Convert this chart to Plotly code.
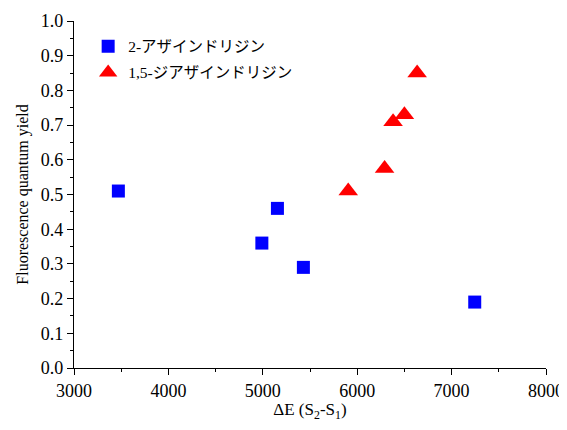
import plotly.graph_objects as go

# Data
aza_x = [3470, 4990, 5155, 5430, 7245]
aza_y = [0.51, 0.36, 0.46, 0.29, 0.19]
diaza_x = [5905, 6290, 6380, 6500, 6635]
diaza_y = [0.51, 0.575, 0.71, 0.73, 0.85]
aza_name = "2-アザインドリジン"
diaza_name = "1,5-ジアザインドリジン"
x_ticks = [3000, 4000, 5000, 6000, 7000, 8000]
y_ticks = [0.0, 0.1, 0.2, 0.3, 0.4, 0.5, 0.6, 0.7, 0.8, 0.9, 1.0]

serif = "Liberation Serif"
legend_fam = "Liberation Serif, Noto Sans CJK JP"

fig = go.Figure()
fig.add_trace(go.Scatter(
    x=aza_x, y=aza_y, mode="markers", name=aza_name, legendgroup="a",
    marker=dict(symbol="square", size=13, color="#0000ff", line=dict(width=0)),
))
fig.add_trace(go.Scatter(
    x=diaza_x, y=diaza_y, mode="markers", name=diaza_name, legendgroup="b",
    marker=dict(symbol="triangle-up", size=17, color="#ff0000", line=dict(width=0)),
))

axis_common = dict(
    showline=True, linecolor="black", linewidth=1.3,
    ticks="outside", ticklen=6, tickwidth=1.3, tickcolor="black",
    showgrid=False, zeroline=False, mirror=False, automargin=False,
    ticklabeloverflow="allow",
    tickfont=dict(family=serif, size=18, color="black"),
)

fig.update_xaxes(
    range=[3000, 8000], tickvals=x_ticks, ticktext=[str(v) for v in x_ticks],
    minor=dict(ticks="outside", ticklen=3, tickwidth=1.3, tickcolor="black", dtick=500),
    title=dict(text="ΔE (S<sub>2</sub>-S<sub>1</sub>)", font=dict(family=serif, size=17, color="black"), standoff=16),
    **axis_common,
)
fig.update_yaxes(
    range=[0, 1.0], tickvals=y_ticks, ticktext=[f"{v:.1f}" for v in y_ticks],
    minor=dict(ticks="outside", ticklen=3, tickwidth=1.3, tickcolor="black", dtick=0.05),
    title=dict(text="Fluorescence quantum yield", font=dict(family=serif, size=16, color="black"), standoff=8),
    **axis_common,
)

# the page adds an 8px body margin, so the figure is sized to fit the window
fig.update_layout(
    width=559, height=414,
    margin=dict(l=66, r=21, t=13, b=54, autoexpand=False),
    plot_bgcolor="white", paper_bgcolor="white",
    font=dict(family=serif),
    showlegend=True,
    legend=dict(
        x=0.03, y=0.975, xanchor="left", yanchor="top",
        bgcolor="rgba(0,0,0,0)", borderwidth=0,
        font=dict(family=legend_fam, size=15.5, color="black"),
        itemsizing="trace", tracegroupgap=3,
    ),
)

fig.write_html("out.html")
